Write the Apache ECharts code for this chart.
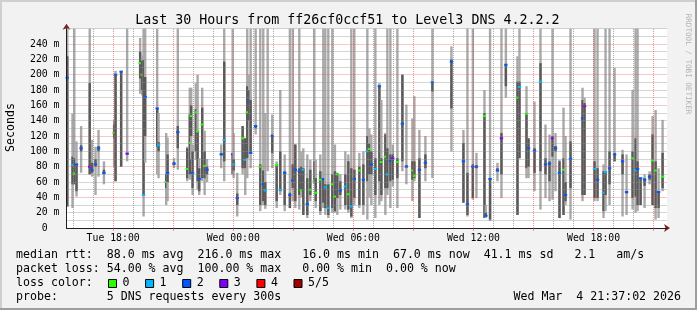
<!DOCTYPE html>
<html>
<head>
<meta charset="utf-8">
<script src="https://cdn.jsdelivr.net/npm/echarts@6/dist/echarts.min.js"></script>
<style>
html,body{margin:0;padding:0;background:#f2f2f2;}
#chart{width:697px;height:310px;}
</style>
</head>
<body>
<div id="chart"></div>
<script>
// ---- data (time in hours since Tue 00:00, values in ms) ----
const hours = [
15.71,15.97,16.06,16.17,16.40,16.83,16.95,17.12,17.27,17.54,
18.05,18.12,18.40,18.70,19.35,19.45,19.52,19.60,20.20,20.27,
20.65,20.72,21.04,21.23,21.70,21.83,21.90,21.97,22.13,22.22,
22.30,22.45,22.57,22.69,23.40,23.55,23.97,24.02,24.20,24.47,
24.60,24.70,24.80,24.87,25.12,25.35,25.50,25.60,25.72,25.95,
26.17,26.35,26.57,26.83,26.97,27.10,27.30,27.40,27.50,27.70,
27.85,28.05,28.12,28.35,28.50,28.60,28.75,28.95,29.08,29.20,
29.35,29.60,29.75,29.90,30.05,30.30,30.50,30.70,30.80,30.90,
31.10,31.30,31.40,31.60,31.70,31.85,31.97,32.20,32.45,32.65,
32.95,33.05,33.30,33.60,33.95,34.90,35.50,35.70,35.97,36.15,
36.55,36.62,36.83,37.20,37.40,37.62,38.20,38.30,38.65,38.75,
39.05,39.35,39.60,39.80,39.95,40.10,40.30,40.50,40.60,40.85,
41.45,41.55,42.05,42.20,42.50,42.60,42.80,43.05,43.45,43.65,
43.95,44.10,44.20,44.35,44.55,44.80,44.95,45.10,45.25,45.45];
const lows = [
28,26,57,41,72,70,67,43,67,57,
80,61,80,87,175,173,15,85,70,65,
30,35,78,76,61,63,90,43,89,50,
43,61,43,60,78,61,70,65,15,70,
43,65,100,78,122,22,30,25,74,78,
26,43,22,26,35,26,24,40,17,13,
35,57,26,17,26,17,13,20,20,17,
24,24,20,13,30,26,17,11,40,30,
13,30,35,17,43,26,54,26,74,57,
35,61,13,61,65,100,33,15,37,39,
13,13,9,61,39,170,17,91,65,65,
48,24,39,35,37,48,13,17,30,11,
35,43,35,35,13,22,30,87,15,17,
24,20,22,30,26,57,30,11,13,48];
const highs = [
260,149,260,113,133,260,115,106,128,87,
141,205,204,260,248,225,260,260,260,150,
124,118,91,260,106,183,183,109,189,200,
91,183,127,90,109,260,260,124,72,133,
117,260,200,260,260,260,260,150,260,148,
87,180,96,260,260,109,260,100,104,96,
89,260,89,96,260,260,260,260,109,70,
70,100,96,260,260,98,100,260,130,122,
260,189,167,124,260,260,109,260,200,161,
143,172,128,120,260,237,128,260,260,98,
180,30,260,85,260,260,224,260,185,117,
165,260,135,122,260,124,89,157,120,260,
183,170,260,260,83,260,260,209,102,96,
180,260,260,65,70,74,146,154,78,141];
const q1s = [
28,57,57,48,100,70,72,80,100,70,
117,61,80,96,195,180,43,120,106,100,
52,60,82,104,65,70,120,52,100,61,
48,65,65,70,95,87,70,75,30,78,
78,91,140,98,130,30,35,30,null,98,
35,48,30,26,52,35,43,48,17,17,
43,61,35,22,33,26,17,26,22,39,
43,30,24,15,39,30,30,61,70,70,
43,61,43,52,52,61,63,65,87,80,
63,65,13,78,178,156,33,17,39,78,
13,15,11,74,70,185,17,91,78,80,
72,74,70,61,93,100,13,17,35,52,
43,43,39,39,22,43,57,87,70,45,
39,41,30,30,55,63,30,26,26,52];
const q3s = [
224,93,91,83,108,189,85,90,107,76,
135,200,204,98,230,218,219,197,156,112,
70,96,86,133,104,148,160,100,155,126,
78,157,100,80,98,217,98,90,45,133,
117,185,180,167,133,83,75,60,null,122,
83,100,74,46,83,109,78,80,78,65,
76,87,65,74,65,57,57,70,74,72,
61,70,87,78,76,80,83,120,110,100,
91,185,91,122,104,96,96,91,200,82,
87,87,91,96,191,220,111,72,83,82,
150,20,65,78,124,213,191,191,150,117,
104,215,91,87,120,107,87,91,60,113,
167,163,87,78,74,74,100,98,96,48,
100,117,87,65,65,70,122,87,48,98];
const medians = [
196,82,71,83,104,80,76,83,104,72,
124,200,204,97,215,200,43,171,156,108,
60,72,84,125,77,111,146,72,151,126,
64,135,81,76,96,115,96,83,39,117,
89,151,165,98,133,80,57,49,null,120,
82,50,72,43,62,76,74,49,76,31,
50,61,46,63,64,53,26,57,41,70,
49,54,44,28,64,75,63,100,103,83,
77,185,86,93,70,88,91,86,136,80,
75,68,76,85,190,217,87,31,80,80,
146,16,64,75,117,213,170,184,149,104,
101,191,83,84,117,104,72,76,43,90,
143,159,77,63,46,73,78,96,87,47,
91,75,77,65,63,67,88,75,47,67];
const losses = [
2,1,0,2,2,3,2,2,2,2,
0,2,2,3,0,0,1,2,2,1,
0,2,2,2,0,0,0,2,0,0,
2,0,0,2,2,1,2,1,2,0,
1,0,2,2,2,0,2,1,0,2,
0,1,2,2,2,2,2,0,1,2,
0,0,0,0,2,1,1,0,0,0,
2,1,0,1,2,0,2,1,0,2,
1,2,0,0,1,2,3,0,2,2,
0,0,2,2,2,2,2,2,2,2,
0,2,2,2,3,2,0,1,0,2,
2,1,2,2,3,2,2,0,2,2,
2,3,1,2,1,1,2,2,2,2,
0,1,2,2,2,2,0,0,2,0];

const xMinHour = 15.67, xMaxHour = 45.67;
const xLabelHours = [18, 24, 30, 36, 42];
const xLabelTexts = ['Tue 18:00', 'Wed 00:00', 'Wed 06:00', 'Wed 12:00', 'Wed 18:00'];
const minorHours = [16,17,19,20,22,23,25,26,28,29,31,32,34,35,37,38,40,41,43,44];
const majorHours = [18,21,24,27,30,33,36,39,42,45];
const yMax = 260;

const lossColors = ['#26ff00', '#00b8ff', '#0059ff', '#7e00ff', '#ff0000', '#a10000'];
const lossLabels = ['0', '1', '2', '3', '4', '5/5'];

const titleText = 'Last 30 Hours from ff26cf0ccf51 to Level3 DNS 4.2.2.2';
const legendLines = [
  'median rtt:  88.0 ms avg  216.0 ms max   16.0 ms min  67.0 ms now  41.1 ms sd   2.1   am/s',
  'packet loss: 54.00 % avg  100.00 % max   0.00 % min  0.00 % now',
  'loss color:',
  'probe:       5 DNS requests every 300s'
];
const dateText = 'Wed Mar  4 21:37:02 2026';
const watermark = 'RRDTOOL / TOBI OETIKER';

// ---- styles ----
const MONO = '"DejaVu Sans Mono", monospace';
const GRID_MINOR = 'rgba(143,143,143,0.75)';
const GRID_MAJOR = 'rgba(222,79,79,0.6)';
const SMOKE_LIGHT = '#a9a9a9';
const SMOKE_DARK = '#595959';
const BAR_HOURS = 0.12;

const rows = hours.map((h, i) => [h, lows[i], highs[i],
  q1s[i] == null ? '-' : q1s[i], q3s[i] == null ? '-' : q3s[i],
  medians[i] == null ? '-' : medians[i], losses[i]]);

function renderSmoke(params, api) {
  const h = api.value(0), lo = api.value(1), hi = api.value(2);
  const a = api.value(3), b = api.value(4), m = api.value(5), loss = api.value(6);
  const w = api.size([BAR_HOURS, 0])[0];
  const children = [];
  const pLo = api.coord([h, lo]), pHi = api.coord([h, hi]);
  children.push({type: 'rect', shape: {x: pLo[0] - w / 2, y: pHi[1], width: w, height: pLo[1] - pHi[1]},
    style: {fill: SMOKE_LIGHT}});
  if (!isNaN(a) && !isNaN(b)) {
    const pa = api.coord([h, a]), pb = api.coord([h, b]);
    children.push({type: 'rect', shape: {x: pa[0] - w / 2, y: pb[1], width: w, height: Math.max(1, pa[1] - pb[1])},
      style: {fill: SMOKE_DARK}});
  }
  if (!isNaN(m)) {
    const pm = api.coord([h, m]);
    children.push({type: 'rect', shape: {x: pm[0] - w / 2 - 0.5, y: pm[1] - 1, width: w + 1, height: 2},
      style: {fill: lossColors[loss]}});
  }
  return {type: 'group', children: children};
}

const gridMarkData = minorHours.map(h => ({xAxis: h, lineStyle: {color: GRID_MINOR, type: [1, 1], width: 1}}))
  .concat(majorHours.map(h => ({xAxis: h, lineStyle: {color: GRID_MAJOR, type: [1, 1], width: 1}})));

const graphics = [];
// 3D border
graphics.push({type: 'rect', shape: {x: 0, y: 0, width: 697, height: 2}, style: {fill: '#cfcfcf'}, silent: true});
graphics.push({type: 'rect', shape: {x: 0, y: 0, width: 2, height: 310}, style: {fill: '#cfcfcf'}, silent: true});
graphics.push({type: 'rect', shape: {x: 0, y: 308, width: 697, height: 2}, style: {fill: '#9e9e9e'}, silent: true});
graphics.push({type: 'rect', shape: {x: 695, y: 0, width: 2, height: 310}, style: {fill: '#9e9e9e'}, silent: true});
// title
graphics.push({type: 'text', x: 347.3, y: 21, silent: true,
  style: {text: titleText, align: 'center', verticalAlign: 'middle', font: '13.3px ' + MONO, fill: '#000'}});
// y axis title
graphics.push({type: 'text', x: 11, y: 127.5, rotation: Math.PI / 2, silent: true,
  style: {text: 'Seconds', align: 'center', verticalAlign: 'middle', font: '11.6px ' + MONO, fill: '#000'}});
// watermark
graphics.push({type: 'text', x: 688, y: 64, rotation: -Math.PI / 2, silent: true,
  style: {text: watermark, align: 'center', verticalAlign: 'middle', font: '7.6px ' + MONO, fill: '#b4b4b4'}});
// legend lines
legendLines.forEach((t, i) => {
  graphics.push({type: 'text', x: 16, y: 254.7 + i * 14, silent: true,
    style: {text: t, align: 'left', verticalAlign: 'middle', font: '11.6px ' + MONO, fill: '#000'}});
});
lossLabels.forEach((t, i) => {
  const x0 = 108 + i * 37.1;
  graphics.push({type: 'rect', shape: {x: x0 + 0.5, y: 279.5, width: 8, height: 8}, silent: true,
    style: {fill: lossColors[i], stroke: '#000', lineWidth: 1}});
  graphics.push({type: 'text', x: x0 + 14.5, y: 282.7, silent: true,
    style: {text: t, align: 'left', verticalAlign: 'middle', font: '11.6px ' + MONO, fill: '#000'}});
});
graphics.push({type: 'text', x: 681, y: 296.7, silent: true,
  style: {text: dateText, align: 'right', verticalAlign: 'middle', font: '11.6px ' + MONO, fill: '#000'}});

const chart = echarts.init(document.getElementById('chart'), null, {renderer: 'canvas'});
chart.setOption({
  animation: false,
  backgroundColor: '#f2f2f2',
  grid: {left: 66.5, right: 30, top: 28.7, bottom: 82, show: true, backgroundColor: '#ffffff', borderWidth: 0},
  xAxis: [{
    type: 'value', min: xMinHour, max: xMaxHour, z: 4,
    axisLine: {show: true, lineStyle: {color: '#1f1f1f', width: 1}},
    axisTick: {show: true, customValues: majorHours, length: 3, lineStyle: {color: GRID_MAJOR}},
    axisLabel: {customValues: xLabelHours, margin: 5, color: '#000', fontFamily: MONO, fontSize: 9.8,
      formatter: v => { const k = xLabelHours.indexOf(Math.round(v)); return k >= 0 ? xLabelTexts[k] : ''; }},
    splitLine: {show: false}
  }, {
    type: 'value', min: xMinHour, max: xMaxHour, position: 'bottom', z: 1,
    axisLine: {show: true, symbol: ['none', 'arrow'], symbolSize: [6, 6], symbolOffset: [0, 3],
      lineStyle: {color: '#7f1f1f', width: 1}},
    axisTick: {show: false}, axisLabel: {show: false}, splitLine: {show: false}
  }],
  yAxis: [{
    type: 'value', min: 0, max: yMax, interval: 10, z: 4,
    axisLine: {show: true, lineStyle: {color: '#1f1f1f', width: 1}},
    axisTick: {show: false},
    axisLabel: {margin: 7, color: '#000', fontFamily: MONO, fontSize: 9.8,
      formatter: v => (v % 20 !== 0 || v > 240) ? '' : (v === 0 ? '0  ' : v + ' m')},
    splitLine: {show: true, lineStyle: {color: [GRID_MAJOR, GRID_MINOR, GRID_MINOR, GRID_MINOR], type: [1, 1], width: 1}}
  }, {
    type: 'value', min: 0, max: yMax, position: 'left', z: 1,
    axisLine: {show: true, symbol: ['none', 'arrow'], symbolSize: [6, 6], symbolOffset: [0, 5],
      lineStyle: {color: '#7f1f1f', width: 1}},
    axisTick: {show: false}, axisLabel: {show: false}, splitLine: {show: false}
  }],
  series: [{
    type: 'custom', name: 'smoke', z: 2, xAxisIndex: 0, yAxisIndex: 0,
    renderItem: renderSmoke,
    encode: {x: 0, y: [1, 2]},
    data: rows,
    silent: true
  }, {
    type: 'line', name: 'grid', z: 3, xAxisIndex: 0, yAxisIndex: 0, data: [],
    markLine: {silent: true, symbol: ['none', 'none'], label: {show: false}, animation: false, data: gridMarkData}
  }],
  graphic: graphics
});
</script>
</body>
</html>
